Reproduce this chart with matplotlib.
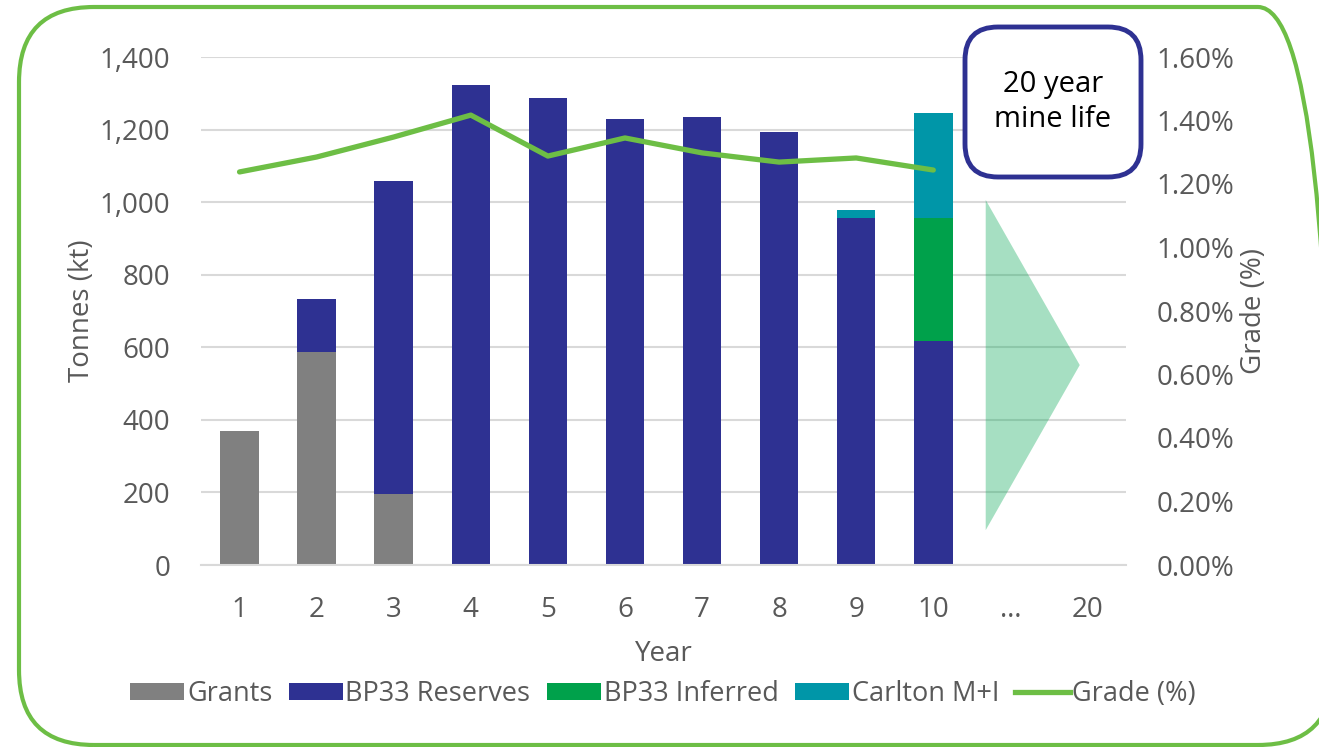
import matplotlib
matplotlib.use("Agg")
import matplotlib.pyplot as plt
from matplotlib.patches import FancyBboxPatch, Polygon, Patch
from matplotlib.lines import Line2D
import numpy as np

plt.rcParams['font.family'] = ['Open Sans', 'DejaVu Sans']

# Categories and series values (kt and grade %)
years = ['1', '2', '3', '4', '5', '6', '7', '8', '9', '10', '…', '20']
grants = [370, 587, 196, 0, 0, 0, 0, 0, 0, 0, 0, 0]
bp33_reserves = [0, 146, 862, 1323, 1287, 1229, 1235, 1193, 956, 617, 0, 0]
bp33_inferred = [0, 0, 0, 0, 0, 0, 0, 0, 0, 339, 0, 0]
carlton_mi = [0, 0, 0, 0, 0, 0, 0, 0, 22, 290, 0, 0]
grade_pct = [1.238, 1.285, 1.348, 1.417, 1.288, 1.345, 1.298, 1.269, 1.282, 1.244]

C_GRANTS = '#808080'
C_RES = '#2E3192'
C_INF = '#00A14B'
C_CARL = '#0096A8'
C_LINE = '#6DBE45'
C_TEXT = '#595959'
C_GRID = '#D9D9D9'
FS = 20

fig = plt.figure(figsize=(13.19, 7.47), dpi=100)
W, H = 1319, 747

# rounded frame around the whole chart; its right side runs just past the edge
frame = FancyBboxPatch((19 / W, 2 / H), 1314 / W, 738 / H,
                       boxstyle=f"round,pad=0,rounding_size={75 / W}",
                       transform=fig.transFigure, fill=False,
                       edgecolor=C_LINE, linewidth=3, mutation_aspect=W / H)
fig.patches.append(frame)

ax = fig.add_axes([201 / W, (H - 565) / H, 925 / W, 508 / H])
x = np.arange(len(years))
bw = 0.5

g = np.array(grants, dtype=float)
r = np.array(bp33_reserves, dtype=float)
inf = np.array(bp33_inferred, dtype=float)
c = np.array(carlton_mi, dtype=float)

ax.bar(x, g, bw, color=C_GRANTS, zorder=2)
ax.bar(x, r, bw, bottom=g, color=C_RES, zorder=2)
ax.bar(x, inf, bw, bottom=g + r, color=C_INF, zorder=2)
ax.bar(x, c, bw, bottom=g + r + inf, color=C_CARL, zorder=2)

ax.set_xlim(-0.5, len(years) - 0.5)
ax.set_ylim(0, 1400)
ax.set_yticks(range(0, 1401, 200))
ax.set_yticklabels([f'{v:,}' for v in range(0, 1401, 200)])
ax.set_xticks(x)
ax.set_xticklabels(years)
ax.grid(axis='y', color=C_GRID, linewidth=1.5, zorder=0)
ax.set_axisbelow(True)
for s in ['top', 'right', 'left']:
    ax.spines[s].set_visible(False)
ax.spines['bottom'].set_color(C_GRID)
ax.spines['bottom'].set_linewidth(1.5)
ax.tick_params(axis='both', length=0, labelsize=FS, colors=C_TEXT)
ax.tick_params(axis='y', pad=22)
ax.tick_params(axis='x', pad=22)
ax.set_xlabel('Year', fontsize=FS, color=C_TEXT, labelpad=12)
ax.set_ylabel('Tonnes (kt)', fontsize=FS, color=C_TEXT, labelpad=3)

# arrow showing the remaining years
tri = Polygon([[9.68, 1006], [9.68, 96], [10.9, 551]], closed=True,
              facecolor='#00A651', alpha=0.35, edgecolor='none', zorder=3)
ax.add_patch(tri)

ax2 = ax.twinx()
ax2.plot(x[:len(grade_pct)], np.array(grade_pct) / 100, color=C_LINE,
         linewidth=3.8, zorder=4, solid_capstyle='round')
ax2.set_ylim(0, 0.016)
ax2.set_yticks(np.arange(0, 0.0161, 0.002))
ax2.set_yticklabels([f'{v * 100:.2f}%' for v in np.arange(0, 0.0161, 0.002)])
for s in ax2.spines.values():
    s.set_visible(False)
ax2.tick_params(axis='y', length=0, labelsize=FS, colors=C_TEXT, pad=22)
ax2.set_ylabel('Grade (%)', fontsize=FS, color=C_TEXT, labelpad=4)

# callout box
box = FancyBboxPatch((965 / W, (H - 177) / H), 176 / W, 150 / H,
                     boxstyle="round,pad=0,rounding_size=0.025",
                     transform=fig.transFigure, facecolor='white',
                     edgecolor=C_RES, linewidth=3.5, mutation_aspect=W / H,
                     zorder=10)
fig.patches.append(box)
fig.text(1053 / W, (H - 102) / H, '20 year\nmine life', ha='center', va='center',
         fontsize=21, color='black', linespacing=1.3, zorder=11)

handles = [Patch(facecolor=C_GRANTS), Patch(facecolor=C_RES),
           Patch(facecolor=C_INF), Patch(facecolor=C_CARL),
           Line2D([0], [0], color=C_LINE, linewidth=3.8)]
labels = ['Grants', 'BP33 Reserves', 'BP33 Inferred', 'Carlton M+I', 'Grade (%)']
leg = fig.legend(handles, labels, loc='center', bbox_to_anchor=(663 / W, (H - 694) / H),
                 ncol=5, frameon=False, fontsize=FS - 0.5, handlelength=2.0,
                 handleheight=0.6, handletextpad=0.1, columnspacing=0.6,
                 labelcolor=C_TEXT)

fig.savefig('out.png', dpi=100)
